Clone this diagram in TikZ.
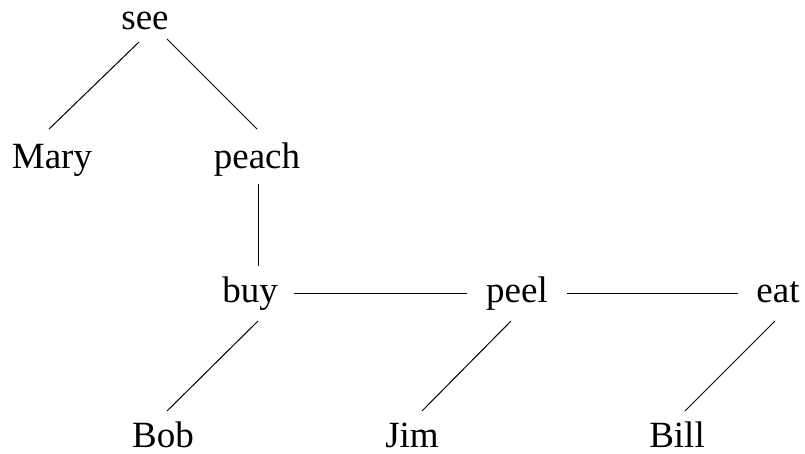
\documentclass[tikz,border=0pt]{standalone}
\usepackage{fontspec}
\setmainfont{Liberation Serif}
\begin{document}
\begin{tikzpicture}[x=1pt,y=-1pt,
  word/.style={anchor=base,inner sep=0pt,font=\fontsize{37}{44}\selectfont},
  link/.style={draw=black,line width=1pt}]
\useasboundingbox (0,0) rectangle (805,453);
\node[word] (see)   at (145,29)  {see};
\node[word] (mary)  at (52,168)  {Mary};
\node[word] (peach) at (257,168) {peach};
\node[word] (buy)   at (250,302) {buy};
\node[word] (peel)  at (517,302) {peel};
\node[word] (eat)   at (778,302) {eat};
\node[word] (bob)   at (163,447) {Bob};
\node[word] (jim)   at (412,447) {Jim};
\node[word] (bill)  at (677,447) {Bill};
\draw[link] ([shift={(-6,13)}]see.base) -- ([shift={(-3,-39)}]mary.base);
\draw[link] ([shift={(22,10)}]see.base) -- ([shift={(0,-39)}]peach.base);
\draw[link] ([shift={(1,16)}]peach.base) -- ([shift={(8,-36)}]buy.base);
\draw[link] ([shift={(44,-9)}]buy.base) -- ([shift={(-50,-9)}]peel.base);
\draw[link] ([shift={(50,-9)}]peel.base) -- ([shift={(-40,-9)}]eat.base);
\draw[link] ([shift={(8,19)}]buy.base) -- ([shift={(4,-36)}]bob.base);
\draw[link] ([shift={(-6,19)}]peel.base) -- ([shift={(10,-36)}]jim.base);
\draw[link] ([shift={(-3,19)}]eat.base) -- ([shift={(8,-36)}]bill.base);
\end{tikzpicture}
\end{document}
